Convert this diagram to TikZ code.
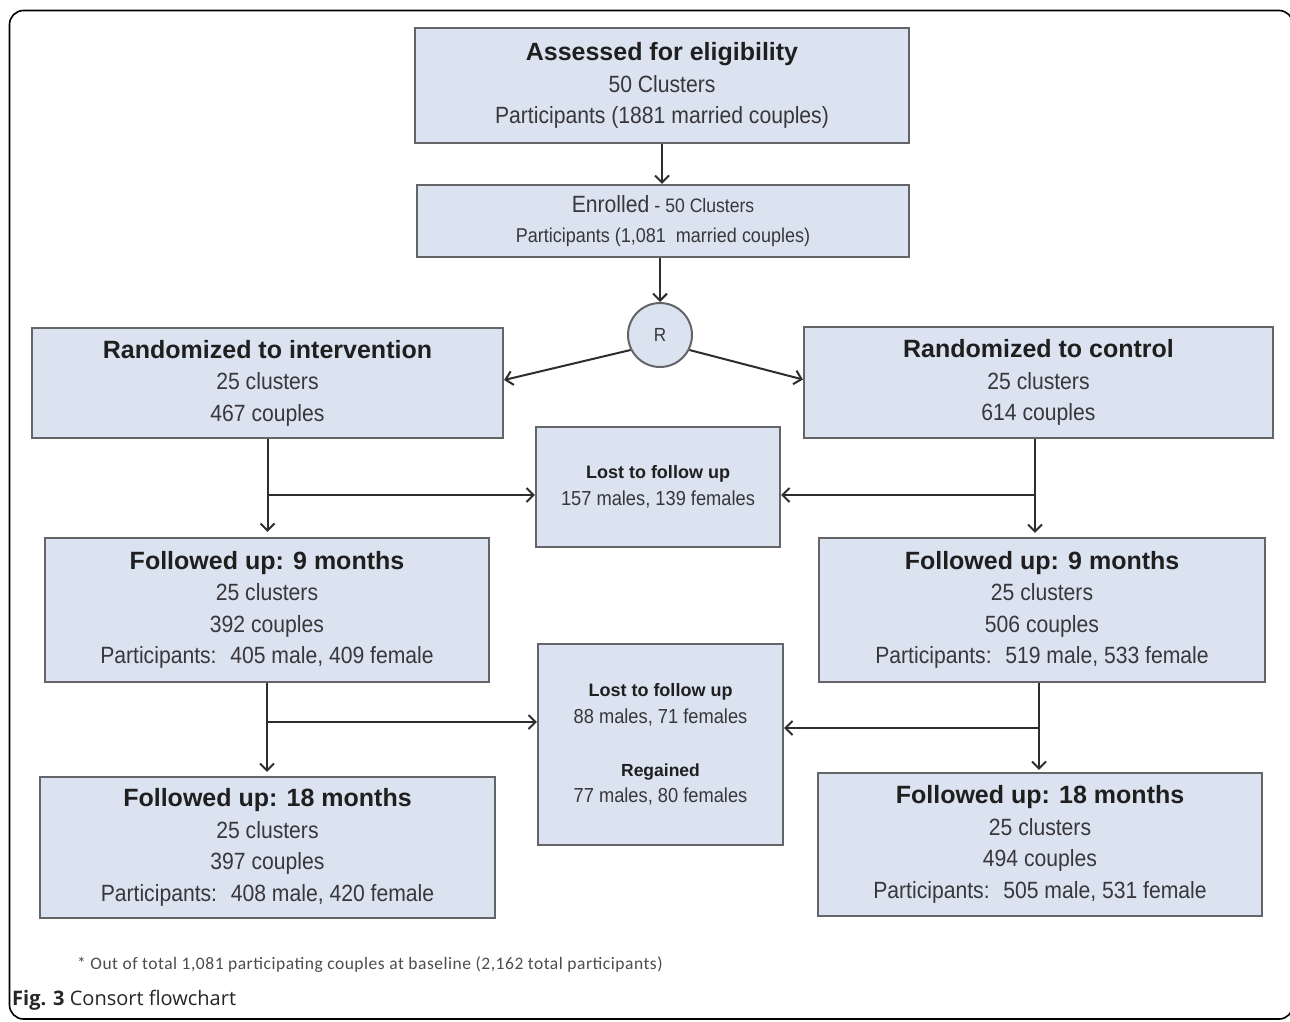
\documentclass[tikz,border=0pt]{standalone}
\usepackage{fontspec}
\setmainfont{Liberation Sans}
\newfontfamily\nar[FakeStretch=0.9]{Liberation Sans}
\newfontfamily\bsf{Liberation Sans}
\newfontfamily\footfont[LetterSpace=3]{Carlito}
\newfontfamily\capfont{Open Sans}
\usetikzlibrary{arrows.meta,calc}
\definecolor{boxfill}{RGB}{219,227,241}
\definecolor{boxline}{RGB}{100,100,105}
\definecolor{txt}{RGB}{55,55,60}
\definecolor{arrc}{RGB}{45,45,45}
\newcommand\ttl[2][25]{{\bsf\bfseries\color{black!88}\fontsize{#1}{31.5}\selectfont #2}}
\tikzset{
  box/.style={draw=boxline, line width=2.2pt, fill=boxfill, inner sep=0pt, align=center,
    text=txt, font=\nar\fontsize{23.5}{31.5}\selectfont},
  smallbox/.style={box, font=\nar\fontsize{20.3}{27}\selectfont},
  arr/.style={draw=arrc, line width=2pt, -{Straight Barb[length=7pt,width=14pt,line width=2pt]}},
  ln/.style={draw=arrc, line width=2pt},
}
\begin{document}
\begin{tikzpicture}[x=1pt,y=-1pt]
\useasboundingbox (0,0) rectangle (1290,1021);
\fill[white] (0,0) rectangle (1290,1021);
\clip (0,0) rectangle (1290,1021);
\draw[line width=1.6pt, rounded corners=14pt] (9.5,10.5) rectangle (1293,1019);

% boxes
\node[box, minimum width=494pt, minimum height=115pt] (b1) at (662,85.5)
  {\ttl{Assessed for eligibility}\\50 Clusters\\Participants (1881 married couples)};
\node[box, minimum width=492pt, minimum height=72pt, font=\nar\fontsize{20}{30}\selectfont] (b2) at (663,221)
  {{\fontsize{23.5}{30}\selectfont Enrolled} - {\fontsize{19.5}{30}\selectfont 50 Clusters}\\Participants (1,081~ married couples)};
\node[draw=boxline, line width=2pt, fill=boxfill, circle, minimum size=64pt, inner sep=0pt,
  text=txt, font=\nar\fontsize{19}{22}\selectfont] (R) at (660,335) {R};
\node[box, minimum width=471pt, minimum height=110pt] (rl) at (267.5,383)
  {\ttl{Randomized to intervention}\\25 clusters\\467 couples};
\node[box, minimum width=469pt, minimum height=111pt] (rr) at (1038.5,382.5)
  {\ttl{Randomized to control}\\25 clusters\\614 couples};
\node[smallbox, minimum width=244pt, minimum height=120pt] (l1) at (658,487)
  {\ttl[18]{Lost to follow up}\\157 males, 139 females};
\node[box, minimum width=444pt, minimum height=144pt] (f9l) at (267,610)
  {\ttl{Followed up: 9 months}\\25 clusters\\392 couples\\Participants:~ 405 male, 409 female};
\node[box, minimum width=446pt, minimum height=144pt] (f9r) at (1042,610)
  {\ttl{Followed up: 9 months}\\25 clusters\\506 couples\\Participants:~ 519 male, 533 female};
\node[smallbox, minimum width=245pt, minimum height=201pt, font=\nar\fontsize{20.3}{26.5}\selectfont] (l2) at (660.5,744.5)
  {\ttl[18]{Lost to follow up}\\88 males, 71 females\\[26.5pt]\ttl[17.5]{Regained}\\77 males, 80 females};
\node[box, minimum width=455pt, minimum height=141pt] (f18l) at (267.5,847.5)
  {\ttl{Followed up: 18 months}\\25 clusters\\397 couples\\Participants:~ 408 male, 420 female};
\node[box, minimum width=444pt, minimum height=143pt] (f18r) at (1040,844.5)
  {\ttl{Followed up: 18 months}\\25 clusters\\494 couples\\Participants:~ 505 male, 531 female};

% connectors
\draw[arr] (b1.south) -- (b1.south |- b2.north);
\draw[arr] (R |- b2.south) -- (R.north);
\draw[arr] (R.207) -- ($(rl.east)+(0,-3)$);
\draw[arr] (R.333) -- ($(rr.west)+(0,-3)$);

\coordinate (j1) at (267.5,495);
\coordinate (j2) at (1035,495);
\draw[arr, shorten >=5pt] (j1 |- rl.south) -- (j1 |- f9l.north);
\draw[arr] (j1) -- (j1 -| l1.west);
\draw[arr, shorten >=4pt] (j2 |- rr.south) -- (j2 |- f9r.north);
\draw[arr] (j2) -- (j2 -| l1.east);

\coordinate (j3) at (267,722);
\coordinate (j4) at (1039,728);
\draw[arr, shorten >=4pt] (j3 |- f9l.south) -- (j3 |- f18l.north);
\draw[arr] (j3) -- (j3 -| l2.west);
\draw[arr, shorten >=2pt] (j4 |- f9r.south) -- (j4 |- f18r.north);
\draw[arr] (j4) -- (j4 -| l2.east);

% footnote and caption
\node[anchor=west, inner sep=0pt, text=black!70, font=\footfont\fontsize{17.5}{19}\selectfont] (fn) at (77,965)
  {* Out of total 1,081 participating couples at baseline (2,162 total participants)};
\node[anchor=west, inner sep=0pt, text=black!85, font=\capfont\fontsize{20}{22}\selectfont] (cap) at (12,1000)
  {\textbf{Fig. 3} Consort flowchart};
\end{tikzpicture}
\end{document}
